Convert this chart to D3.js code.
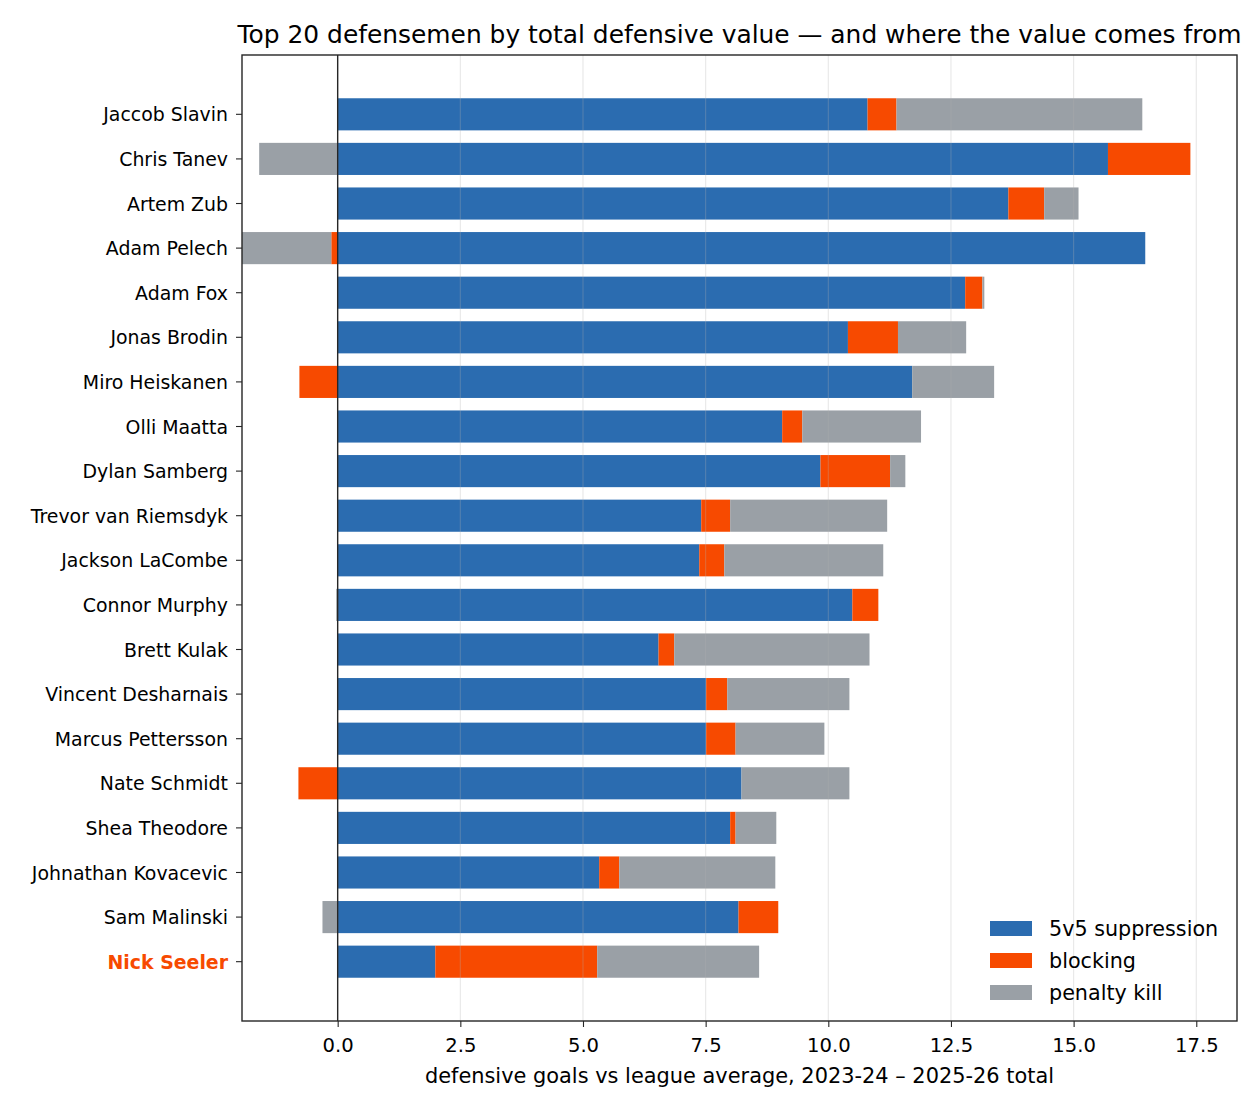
<!DOCTYPE html>
<html>
<head>
<meta charset="utf-8">
<script src="https://cdn.jsdelivr.net/npm/d3@7"></script>
<style>
  body { margin: 0; background: #fff; }
  text { font-family: "DejaVu Sans", sans-serif; }
</style>
</head>
<body>
<div id="chart"></div>
<script>
// players, top to bottom
var players = ["Jaccob Slavin", "Chris Tanev", "Artem Zub", "Adam Pelech", "Adam Fox",
  "Jonas Brodin", "Miro Heiskanen", "Olli Maatta", "Dylan Samberg", "Trevor van Riemsdyk",
  "Jackson LaCombe", "Connor Murphy", "Brett Kulak", "Vincent Desharnais", "Marcus Pettersson",
  "Nate Schmidt", "Shea Theodore", "Johnathan Kovacevic", "Sam Malinski", "Nick Seeler"];

// goals vs league average, by source
var suppression = [10.80, 15.70, 13.67, 16.46, 12.79, 10.40, 11.71, 9.06, 9.84, 7.41,
  7.37, 10.49, 6.54, 7.51, 7.51, 8.23, 8.00, 5.33, 8.17, 1.99];
var blocking = [0.59, 1.68, 0.73, -0.13, 0.35, 1.02, -0.78, 0.41, 1.42, 0.59,
  0.51, 0.53, 0.32, 0.43, 0.60, -0.80, 0.11, 0.41, 0.81, 3.30];
var penaltyKill = [5.01, -1.60, 0.70, -1.85, 0.04, 1.39, 1.67, 2.42, 0.31, 3.20,
  3.24, -0.03, 3.98, 2.49, 1.81, 2.20, 0.83, 3.18, -0.31, 3.30];

var seriesNames = ["5v5 suppression", "blocking", "penalty kill"];
var seriesColors = ["#2b6cb0", "#f74a00", "#9aa0a6"];
var xTicks = [0, 2.5, 5, 7.5, 10, 12.5, 15, 17.5];
var highlight = "Nick Seeler";

var W = 1260, H = 1110;
var margin = { top: 55, right: 23, bottom: 89, left: 242 };
var width = W - margin.left - margin.right,
    height = H - margin.top - margin.bottom;

var rows = players.map(function(p, i) {
  return { name: p, "5v5 suppression": suppression[i], "blocking": blocking[i], "penalty kill": penaltyKill[i] };
});

var stacked = d3.stack().keys(seriesNames).offset(d3.stackOffsetDiverging)(rows);

var svg = d3.select("#chart").append("svg")
    .attr("width", W)
    .attr("height", H);

var g = svg.append("g")
    .attr("transform", "translate(" + margin.left + "," + margin.top + ")");

var x = d3.scaleLinear().domain([-1.95, 18.33]).range([0, width]);
var y = d3.scaleBand().domain(players).range([0, height]).paddingInner(0.28).paddingOuter(0.97);

g.append("clipPath").attr("id", "plotclip")
  .append("rect").attr("width", width).attr("height", height);

// bars
var layers = g.append("g").attr("clip-path", "url(#plotclip)")
  .selectAll("g.layer")
  .data(stacked)
  .enter().append("g")
    .attr("class", "layer")
    .attr("fill", function(d, i) { return seriesColors[i]; });

layers.selectAll("rect")
  .data(function(d) { return d; })
  .enter().append("rect")
    .attr("x", function(d) { return x(Math.min(d[0], d[1])); })
    .attr("y", function(d) { return y(d.data.name); })
    .attr("width", function(d) { return Math.abs(x(d[1]) - x(d[0])); })
    .attr("height", y.bandwidth());

// grid on top of the bars, faint
g.append("g")
  .selectAll("line")
  .data(xTicks)
  .enter().append("line")
    .attr("x1", function(d) { return x(d); })
    .attr("x2", function(d) { return x(d); })
    .attr("y1", 0)
    .attr("y2", height)
    .style("stroke", "#b0b0b0")
    .style("stroke-opacity", 0.3)
    .style("stroke-width", 1.1);

// zero line
g.append("line")
    .attr("x1", x(0)).attr("x2", x(0))
    .attr("y1", 0).attr("y2", height)
    .style("stroke", "#262626")
    .style("stroke-width", 1.4);

// axes
var xAxis = g.append("g")
    .attr("transform", "translate(0," + height + ")")
    .call(d3.axisBottom(x).tickValues(xTicks).tickFormat(d3.format(".1f")).tickSizeOuter(0).tickSize(6).tickPadding(11.5));

var yAxis = g.append("g")
    .attr("transform", "translate(0,1)")
    .call(d3.axisLeft(y).tickSizeOuter(0).tickSize(6).tickPadding(8));

[xAxis, yAxis].forEach(function(a) {
  a.select(".domain").remove();
  a.selectAll(".tick line").style("stroke", "#262626").style("stroke-width", 1.1);
  a.selectAll(".tick text").style("font-family", "DejaVu Sans").style("fill", "#000");
});
xAxis.selectAll(".tick text").style("font-size", "19.6px");
yAxis.selectAll(".tick text").style("font-size", "18.9px");
yAxis.selectAll(".tick line").attr("transform", "translate(0,-1)");

yAxis.selectAll(".tick text")
    .filter(function(d) { return d === highlight; })
    .style("fill", "#f74a00")
    .style("font-weight", "bold");

// frame
g.append("rect")
    .attr("width", width).attr("height", height)
    .style("fill", "none")
    .style("stroke", "#262626")
    .style("stroke-width", 1.4);

// x label
svg.append("text")
    .attr("x", margin.left + width / 2)
    .attr("y", 1083)
    .style("text-anchor", "middle")
    .style("font-size", "20.9px")
    .text("defensive goals vs league average, 2023-24 \u2013 2025-26 total");

// title
svg.append("text")
    .attr("x", margin.left + width / 2)
    .attr("y", 43)
    .style("text-anchor", "middle")
    .style("font-size", "24.9px")
    .text("Top 20 defensemen by total defensive value \u2014 and where the value comes from");

// legend
var legend = svg.append("g").attr("transform", "translate(990,921)");
seriesNames.forEach(function(s, i) {
  legend.append("rect")
      .attr("x", 0).attr("y", i * 32)
      .attr("width", 42).attr("height", 15)
      .attr("fill", seriesColors[i]);
  legend.append("text")
      .attr("x", 59).attr("y", i * 32 + 14.5)
      .style("font-size", "20.7px")
      .text(s);
});
</script>
</body>
</html>
